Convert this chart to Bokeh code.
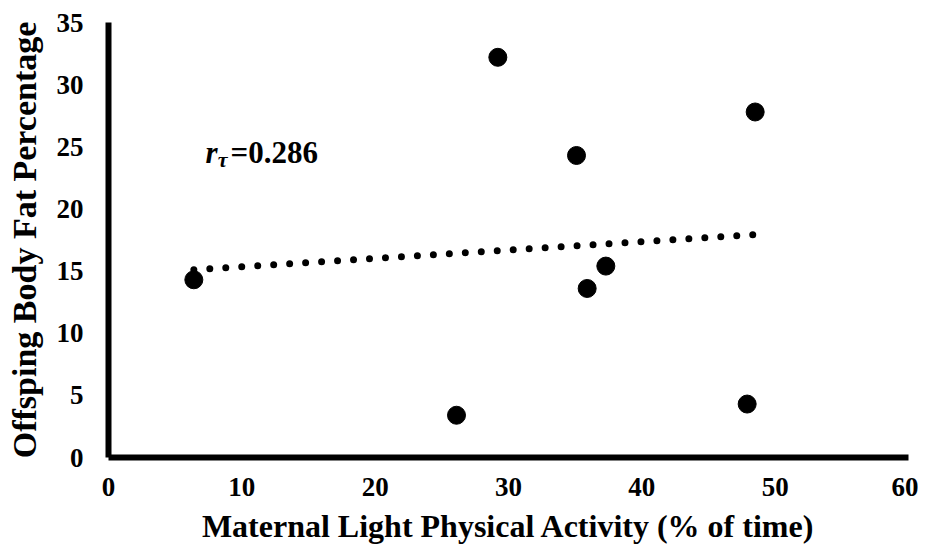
import numpy as np
from bokeh.plotting import figure
from bokeh.models import Range1d, FixedTicker, Label
from bokeh.embed import file_html
from bokeh.resources import INLINE

# Data
activity = [6.4, 26.1, 29.2, 35.1, 35.9, 37.3, 47.9, 48.5]
body_fat = [14.3, 3.4, 32.2, 24.3, 13.6, 15.4, 4.3, 27.8]
x_ticks = [0, 10, 20, 30, 40, 50, 60]
y_ticks = [0, 5, 10, 15, 20, 25, 30, 35]
x_title = "Maternal Light Physical Activity (% of time)"
y_title = "Offsping Body Fat Percentage"
r_tau = "0.286"

FONT = "Liberation Serif"

p = figure(width=918, height=551, output_backend="svg", toolbar_location=None,
           x_range=Range1d(0, 60), y_range=Range1d(0, 35),
           min_border_left=108, min_border_right=10, min_border_top=22, min_border_bottom=94)
p.outline_line_color = None
p.grid.visible = False
p.background_fill_color = "white"
p.border_fill_color = "white"

# Trendline (OLS fit across data range)
slope, intercept = np.polyfit(activity, body_fat, 1)
tx = np.array([min(activity), max(activity)])
ty = slope * tx + intercept
p.line(tx, ty, line_color="black", line_width=7, line_dash="0 16", line_cap="round")

p.scatter(activity, body_fat, size=18, color="black")

for ax, ticks in ((p.xaxis[0], x_ticks), (p.yaxis[0], y_ticks)):
    ax.ticker = FixedTicker(ticks=ticks)
    ax.axis_line_width = 6
    ax.axis_line_color = "black"
    ax.major_tick_line_color = None
    ax.minor_tick_line_color = None
    ax.major_tick_out = 0
    ax.major_tick_in = 0
    ax.major_label_text_font = FONT
    ax.major_label_text_font_style = "bold"
    ax.major_label_text_font_size = "27px"
    ax.major_label_text_color = "black"
    ax.axis_label_text_font = FONT
    ax.axis_label_text_font_style = "bold"
    ax.axis_label_text_font_size = "32px"
    ax.axis_label_text_color = "black"

p.xaxis.axis_label = x_title
p.yaxis.axis_label = y_title
p.yaxis.axis_label_text_font_size = "34px"
p.xaxis.major_label_standoff = 20
p.xaxis.axis_label_standoff = 9
p.yaxis.major_label_standoff = 25
p.yaxis.axis_label_standoff = 11

p.add_layout(Label(x=7.28, y=24.55, text="r", text_font=FONT, text_font_style="bold italic",
                   text_font_size="31px", text_baseline="alphabetic", text_color="black"))
p.add_layout(Label(x=8.2, y=24.55, y_offset=-7, text="τ", text_font=FONT, text_font_style="bold italic",
                   text_font_size="22px", text_baseline="alphabetic", text_color="black"))
p.add_layout(Label(x=9.15, y=24.55, text="=" + r_tau, text_font=FONT, text_font_style="bold",
                   text_font_size="31px", text_baseline="alphabetic", text_color="black"))

open("out.html", "w").write(file_html(p, INLINE))
